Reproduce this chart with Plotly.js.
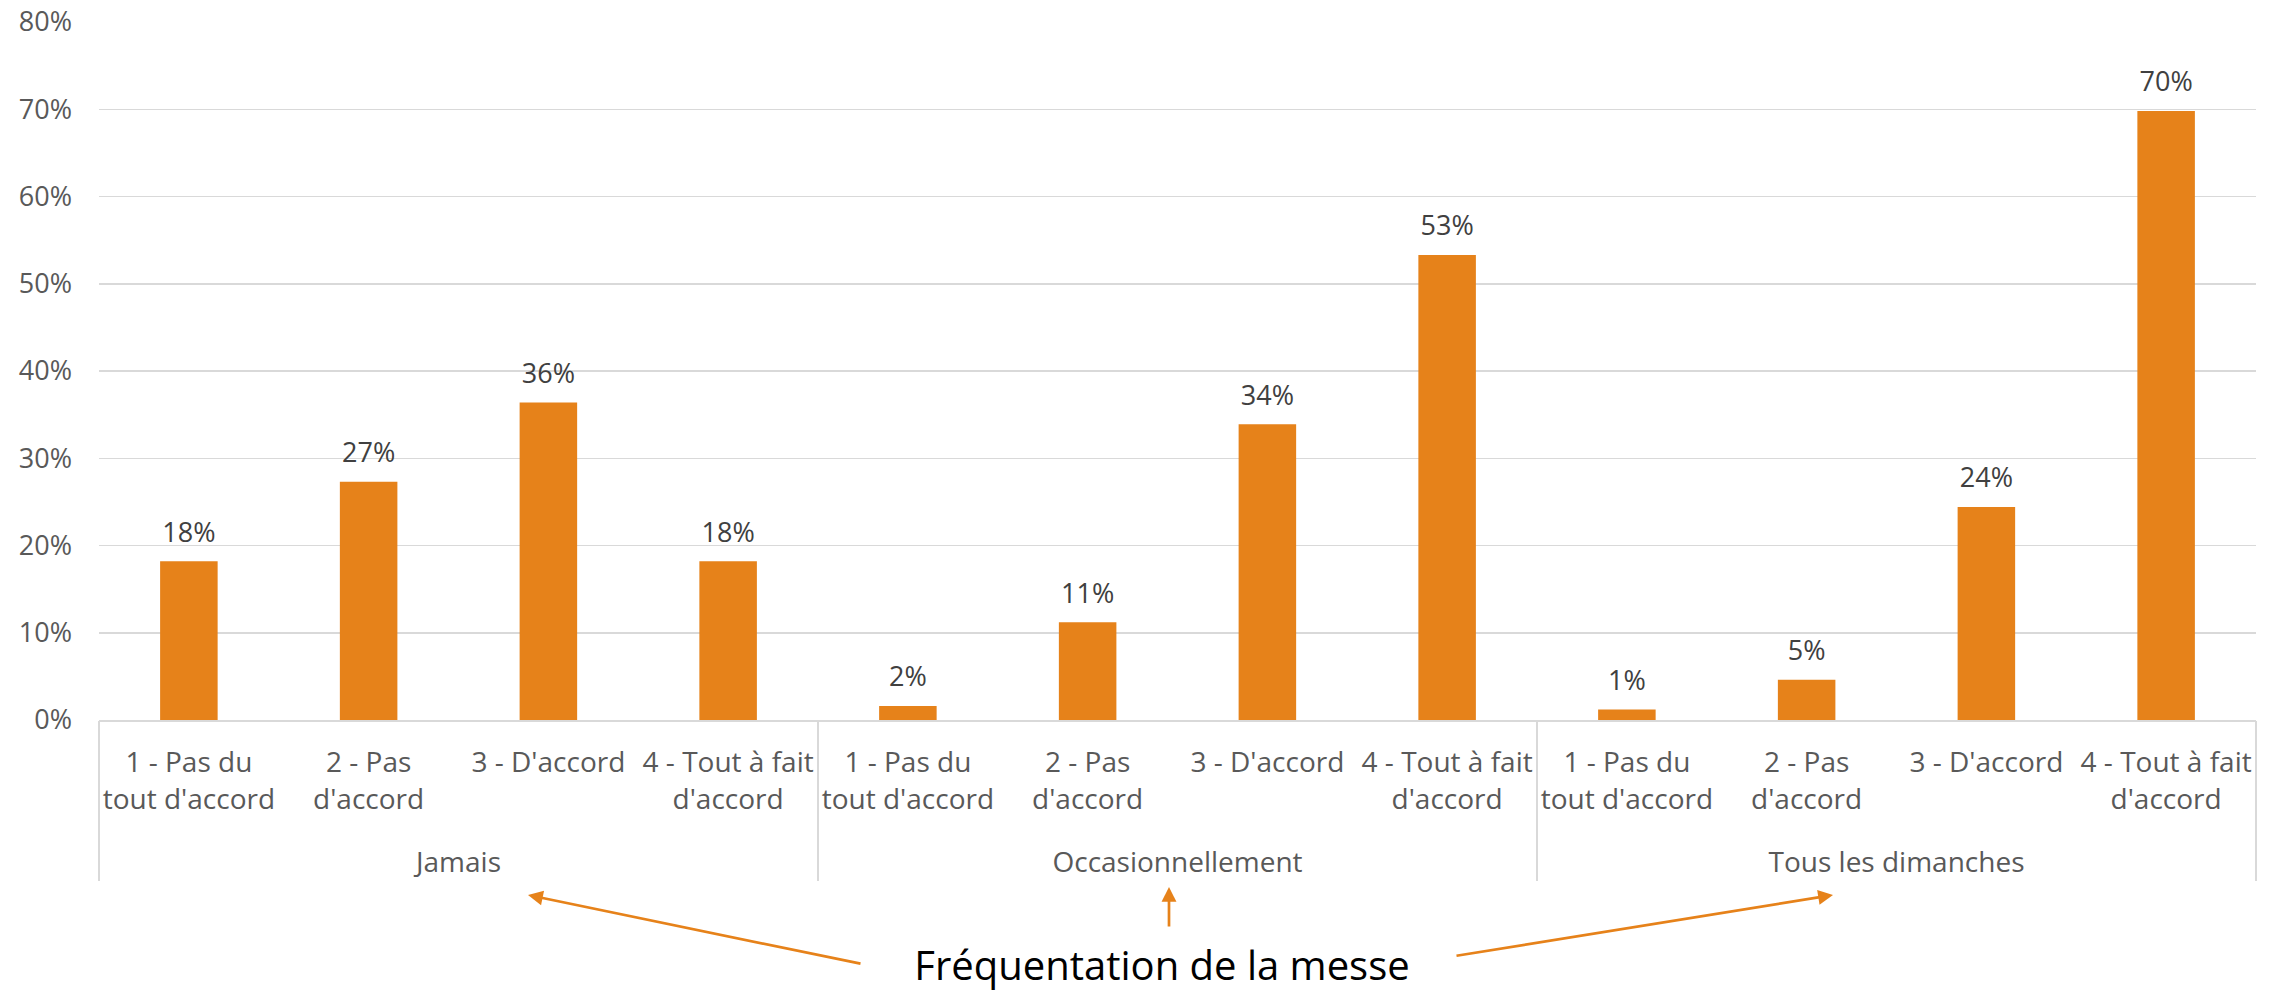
<!DOCTYPE html>
<html>
<head>
<meta charset="utf-8">
<script src="https://cdn.plot.ly/plotly-3.0.1.min.js"></script>
<style>
  html, body { margin: 0; padding: 0; background: #ffffff; }
  #chart { width: 2285px; height: 991px; }
</style>
</head>
<body>
<div id="chart"></div>
<script>
// ---- Data ----
const groups = ['Jamais', 'Occasionnellement', 'Tous les dimanches'];
const responses = ["1 - Pas du<br>tout d'accord", "2 - Pas<br>d'accord", "3 - D'accord", "4 - Tout à fait<br>d'accord"];
const jamais = [0.182, 0.273, 0.364, 0.182];
const occasionnellement = [0.016, 0.112, 0.339, 0.533];
const tousLesDimanches = [0.012, 0.046, 0.244, 0.698];
const yTickVals = [0, 0.1, 0.2, 0.3, 0.4, 0.5, 0.6, 0.7, 0.8];
const axisTitle = 'Fréquentation de la messe';

// ---- Build category arrays (one unique key per group/response pair) ----
const seriesByGroup = [jamais, occasionnellement, tousLesDimanches];
const xKeys = [], xText = [], yVals = [];
groups.forEach((g, gi) => {
  responses.forEach((r, ri) => {
    xKeys.push(g + ' | ' + r);
    xText.push(r);
    yVals.push(seriesByGroup[gi][ri]);
  });
});
const nPer = responses.length;
const nCats = xKeys.length;
// group centres and group boundaries on the category scale
const groupCenters = groups.map((g, gi) => gi * nPer + (nPer - 1) / 2);
const groupBounds = [-0.5].concat(groups.map((g, gi) => (gi + 1) * nPer - 0.5));

const orange = '#E6821A';
const fontFam = '"Open Sans", "Noto Sans", "DejaVu Sans", sans-serif';

const bars = {
  type: 'bar',
  x: xKeys,
  y: yVals,
  width: 0.32,
  marker: { color: orange },
  hoverinfo: 'skip',
  showlegend: false
};

const labels = {
  type: 'scatter',
  mode: 'markers+text',
  x: xKeys,
  y: yVals,
  marker: { size: 19, color: 'rgba(0,0,0,0)' },
  texttemplate: '%{y:.0%}',
  textposition: 'top center',
  textfont: { family: fontFam, size: 27, color: '#404040' },
  hoverinfo: 'skip',
  showlegend: false,
  cliponaxis: false
};

// carrier traces so the divider axis and the group axis are drawn
const dividerCarrier = {
  type: 'scatter', mode: 'none',
  x: groupBounds, y: groupBounds.map(() => 0),
  xaxis: 'x2', yaxis: 'y',
  hoverinfo: 'skip', showlegend: false
};
const groupCarrier = {
  type: 'scatter', mode: 'none',
  x: groupCenters, y: groupCenters.map(() => 0),
  xaxis: 'x3', yaxis: 'y',
  hoverinfo: 'skip', showlegend: false
};

// plot area in pixels (for arrow placement)
const W = 2285, H = 991;
const L = 99, R = 29, T = 22, B = 271;
const pw = W - L - R, ph = H - T - B;
function px(xPix) { return (xPix - L) / pw; }
function py(yPix) { return (H - B - yPix) / ph; }

function arrow(tipX, tipY, tailX, tailY) {
  return {
    xref: 'paper', yref: 'paper',
    x: px(tipX), y: py(tipY),
    ax: tailX - tipX, ay: tailY - tipY,
    text: '', showarrow: true,
    arrowhead: 2, arrowsize: 1.1, arrowwidth: 2.7,
    arrowcolor: orange, standoff: 0, startstandoff: 0
  };
}

const xRange = [-0.5, nCats - 0.5];
const tickFont = { family: fontFam, size: 28, color: '#595959' };

const layout = {
  width: W, height: H,
  margin: { l: L, r: R, t: T, b: B },
  paper_bgcolor: '#ffffff',
  plot_bgcolor: '#ffffff',
  font: { family: fontFam, color: '#595959' },
  title: {
    text: axisTitle,
    font: { family: fontFam, size: 40, color: '#000000' },
    xref: 'paper', x: px(1162), xanchor: 'center',
    yref: 'container', y: (H - 966) / H, yanchor: 'middle'
  },
  // category row
  xaxis: {
    type: 'category',
    range: xRange, autorange: false,
    tickmode: 'array', tickvals: xKeys, ticktext: xText,
    showline: true, linecolor: '#d9d9d9', linewidth: 1.5,
    showgrid: false, zeroline: false,
    ticks: '', tickangle: 0,
    ticklabelstandoff: 17,
    tickfont: tickFont,
    fixedrange: true
  },
  // group dividers
  xaxis2: {
    overlaying: 'x', anchor: 'y', side: 'bottom',
    type: 'linear', range: xRange, autorange: false,
    tickmode: 'array', tickvals: groupBounds,
    ticks: 'outside', ticklen: 160, tickwidth: 1.5, tickcolor: '#d9d9d9',
    showticklabels: false, showgrid: false, zeroline: false, showline: false,
    fixedrange: true
  },
  // group row
  xaxis3: {
    overlaying: 'x', anchor: 'y', side: 'bottom',
    type: 'linear', range: xRange, autorange: false,
    tickmode: 'array', tickvals: groupCenters, ticktext: groups,
    ticks: '', tickangle: 0,
    ticklabelstandoff: 123,
    tickfont: tickFont,
    showgrid: false, zeroline: false, showline: false,
    fixedrange: true
  },
  yaxis: {
    range: [0, 0.8], autorange: false,
    tickvals: yTickVals,
    tickformat: '.0%',
    showgrid: true, gridcolor: '#d9d9d9', gridwidth: 1.5,
    zeroline: false, showline: false,
    ticks: '',
    ticklabelstandoff: 26,
    tickfont: { family: fontFam, size: 27, color: '#595959' },
    fixedrange: true
  },
  annotations: [
    arrow(528, 895, 862, 964),
    arrow(1169, 887, 1169, 928),
    arrow(1833, 895, 1455, 956)
  ]
};

Plotly.newPlot('chart', [bars, labels, dividerCarrier, groupCarrier], layout, { staticPlot: true, displayModeBar: false });
</script>
</body>
</html>
